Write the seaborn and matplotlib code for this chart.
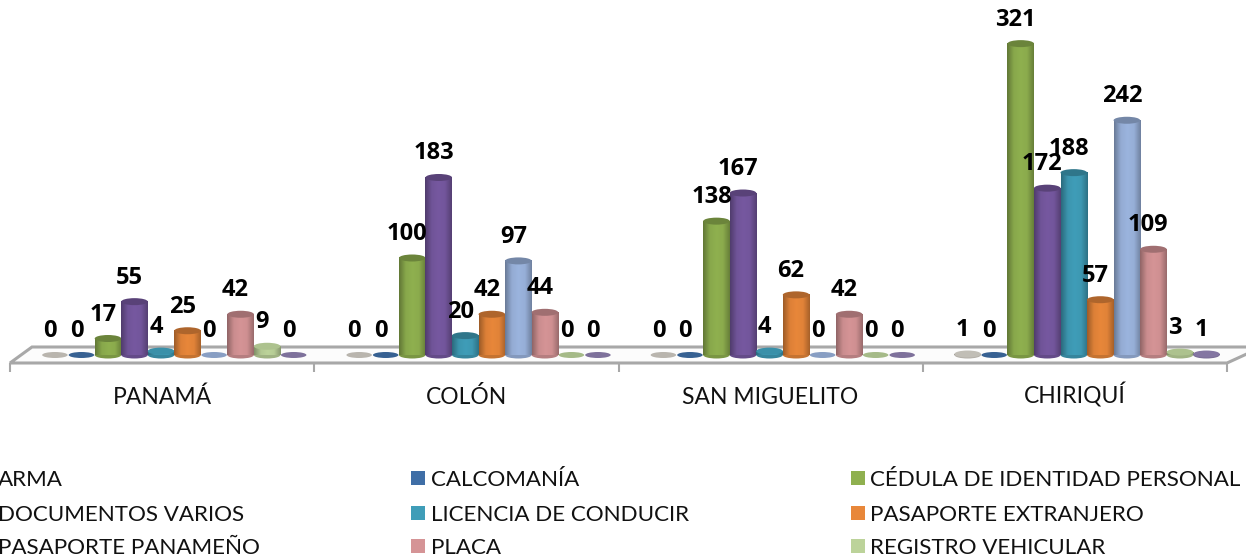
import numpy as np
import pandas as pd
import seaborn as sns
import matplotlib
matplotlib.use("Agg")
import matplotlib.pyplot as plt
from matplotlib.colors import LinearSegmentedColormap, to_rgb
from matplotlib.patches import Ellipse, Polygon, Rectangle

ciudades = ["PANAMÁ", "COLÓN", "SAN MIGUELITO", "CHIRIQUÍ"]
tipos = ["ARMA", "CALCOMANÍA", "CÉDULA DE IDENTIDAD PERSONAL", "DOCUMENTOS VARIOS",
         "LICENCIA DE CONDUCIR", "PASAPORTE EXTRANJERO", "PASAPORTE PANAMEÑO",
         "PLACA", "REGISTRO VEHICULAR", "(no visible)"]
panama = [0, 0, 17, 55, 4, 25, 0, 42, 9, 0]
colon = [0, 0, 100, 183, 20, 42, 97, 44, 0, 0]
san_miguelito = [0, 0, 138, 167, 4, 62, 0, 42, 0, 0]
chiriqui = [1, 0, 321, 172, 188, 57, 242, 109, 3, 1]
colores = ["#d2cec6", "#3f6ea6", "#8fb04f", "#7658a0", "#3f9db8", "#e8873a",
           "#9bb4de", "#d59496", "#bcd39a", "#8f80b0"]

W, H = 1246, 560
PX = 0.97  # pixels per unit
BASE_Y, FRONT_Y, BACK_Y = 355, 363, 347
LEFT, RIGHT = 10, 1227

plt.rcParams["font.family"] = ["Lato", "DejaVu Sans"]
df = pd.DataFrame({
    "ciudad": np.repeat(ciudades, len(tipos)),
    "tipo": tipos * len(ciudades),
    "valor": panama + colon + san_miguelito + chiriqui,
})

fig = plt.figure(figsize=(W / 100, H / 100), dpi=100, facecolor="white")
ax = fig.add_axes([LEFT / W, 1 - FRONT_Y / H, (RIGHT - LEFT) / W, FRONT_Y / H])
ax.patch.set_alpha(0)

sns.barplot(data=df, x="ciudad", y="valor", hue="tipo", hue_order=tipos, order=ciudades,
            palette=colores, saturation=1, width=0.872, gap=0, legend=False, ax=ax,
            errorbar=None, zorder=3)

shift = 0.04
x0 = -0.5 - shift
xlim = (x0, x0 + 4)
ylim = (-(FRONT_Y - BASE_Y) / PX, BASE_Y / PX)

def fx(x): return x / W
def fy(y): return 1 - y / H

floor = Polygon([(fx(10), fy(FRONT_Y)), (fx(32), fy(BACK_Y)), (fx(1262), fy(BACK_Y)), (fx(1227), fy(FRONT_Y))],
                closed=True, transform=fig.transFigure, facecolor="#fcfcfc", edgecolor="#a8a8a8", lw=2.2, zorder=0)
fig.add_artist(floor)

def shade(c):
    r = np.array(to_rgb(c))
    return LinearSegmentedColormap.from_list("s", [r * .68, r * .95, r * 1.0, r * .97, r * .72])

grad = np.linspace(0, 1, 64)[None, :]
ECAP = 7 / PX
for k, cont in enumerate(ax.containers):
    col = colores[k]
    rgb = np.array(to_rgb(col))
    cmap = shade(col)
    for i, bar in enumerate(cont):
        x, w, h = bar.get_x(), bar.get_width(), bar.get_height()
        z = 3 + 0.1 * (4 * i + k)
        cx = x + w / 2
        if h > 0:
            cap = .75 if h >= 15 else .92
            ax.add_patch(Ellipse((cx, 0), w, ECAP, fc=rgb * .85, ec="none", zorder=z))
            ax.imshow(grad, extent=(x, x + w, 0, h), aspect="auto", cmap=cmap, zorder=z + .01, interpolation="bilinear")
            ax.add_patch(Ellipse((cx, h), w, ECAP, fc=rgb * cap, ec="none", zorder=z + .02))
            bar.set_visible(False)
        else:
            ax.add_patch(Ellipse((cx, 0), w * .96, 6 / PX, fc=rgb * .88, ec="none", zorder=z))
        ax.annotate(f"{int(h)}", (cx, h), xytext=(-5 * .72, 24 * .72), textcoords="offset points",
                    ha="center", va="center", fontsize=17, fontweight="bold", color="black",
                    family=["Open Sans", "DejaVu Sans"], annotation_clip=False, zorder=50)

ax.set_xlim(*xlim)
ax.set_ylim(*ylim)
ax.set_ylabel("")
ax.set_xlabel("")
ax.set_yticks([])
for s in ["top", "left", "right", "bottom"]:
    ax.spines[s].set_visible(False)

ax.set_xticks([x0 + j for j in range(5)])
ax.set_xticklabels([])
ax.tick_params(axis="x", which="major", length=6.5, width=1.5, color="#a8a8a8")
ax.set_xticks([x0 + j + .5 for j in range(4)], minor=True)
ax.set_xticklabels(ciudades, minor=True, fontsize=16.5, color="#111111", va="baseline")
ax.tick_params(axis="x", which="minor", length=0, pad=29.5)

col_sw = [-29, 411, 851]
col_tx = [-2, 431, 870]
row_y = [486, 521, 554]
for n, nombre in enumerate(tipos[:9]):
    r, c = n // 3, n % 3
    fig.add_artist(Rectangle((fx(col_sw[c]), fy(row_y[r] - 1)), 14 / W, 14 / H, transform=fig.transFigure,
                             fc=colores[n], ec="none"))
    fig.text(fx(col_tx[c]), fy(row_y[r]), nombre, fontsize=16.1, va="baseline", ha="left", color="#111111")

fig.savefig("out.png", dpi=100)
